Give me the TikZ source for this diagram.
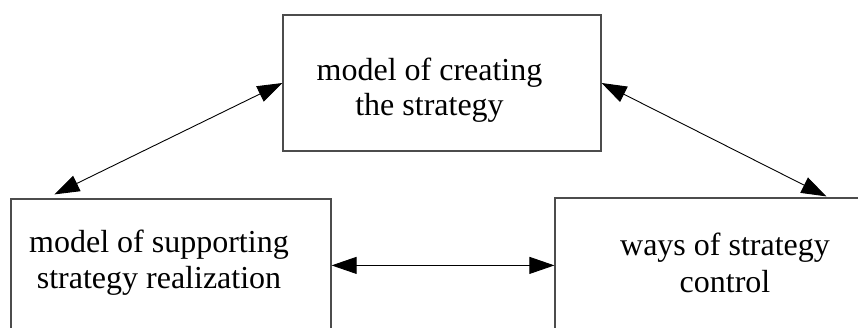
\documentclass[tikz,border=0pt]{standalone}
\usepackage{fontspec}
\setmainfont{Liberation Serif}
\usetikzlibrary{arrows.meta,calc}
\tikzset{
  box/.style={draw=black!70, line width=1.2pt, rectangle, inner sep=0pt},
  lbl/.style={anchor=base, inner sep=0pt, font=\fontsize{32}{36}\selectfont},
  link/.style={line width=0.9pt, {Triangle[length=25pt,width=17pt]}-{Triangle[length=25pt,width=17pt]}}
}
\begin{document}
\begin{tikzpicture}[x=1pt,y=-1pt]
\useasboundingbox (0,0) rectangle (858,327);
\clip (0,0) rectangle (858,327);
\fill[white] (0,0) rectangle (858,327);
% boxes
\node[box, minimum width=318pt, minimum height=136pt] (top) at (442,83) {};
\node[box, minimum width=320pt, minimum height=200pt] (bl) at (171,299) {};
\node[box, minimum width=360pt, minimum height=200pt] (br) at (735,298) {};
% texts
\node[lbl] (t1) at (429.5,80) {model of creating};
\node[lbl] (t2) at (429.5,115) {the strategy};
\node[lbl] (l1) at (159,252) {model of supporting};
\node[lbl] (l2) at (159,288) {strategy realization};
\node[lbl] (r1) at (725,255) {ways of strategy};
\node[lbl] (r2) at (725,292) {control};
% connector ends
\coordinate (blTop) at ($(bl.north west)+(44,-4)$);
\coordinate (brTop) at ($(br.north west)+(272,-1)$);
\coordinate (blRight) at ($(bl.north east)+(0,67)$);
\coordinate (brLeft) at ($(br.north west)+(0,68)$);
% arrows
\draw[link] (blTop) -- (top.west);
\draw[link] (top.east) -- (brTop);
\draw[link] (blRight) -- (brLeft);
\end{tikzpicture}
\end{document}
